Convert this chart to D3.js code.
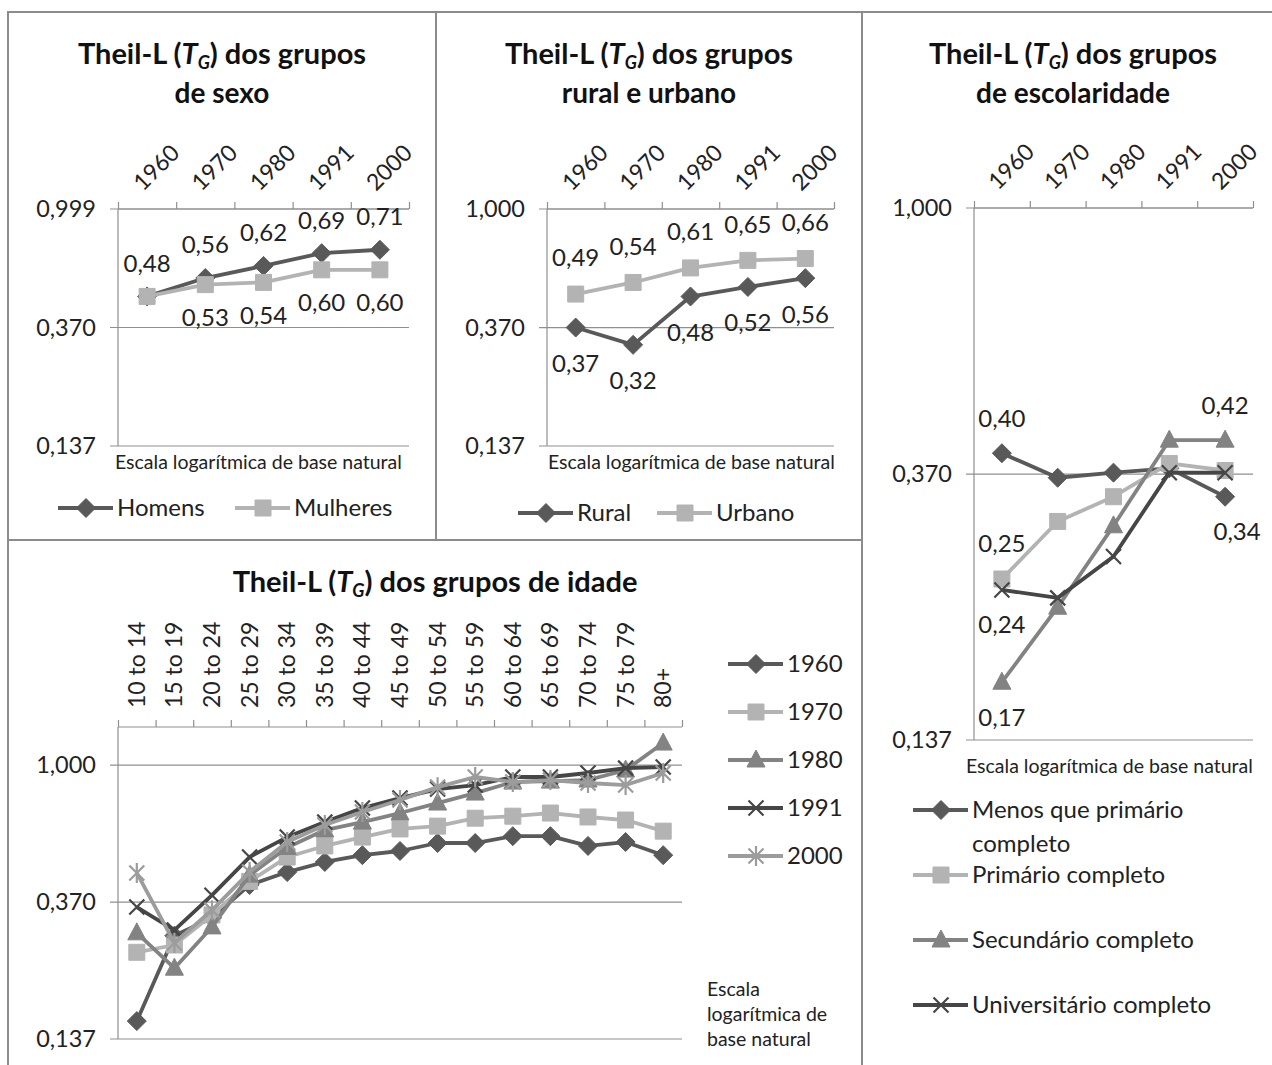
<!DOCTYPE html>
<html>
<head>
<meta charset="utf-8">
<title>Theil-L (TG) dos grupos</title>
<style>
  body { margin: 0; background: #fff; }
  svg { display: block; font-family: Lato, "Open Sans", sans-serif; }
</style>
</head>
<body>
<svg class="viz" width="1272" height="1065"></svg>
<script src="https://d3js.org/d3.v7.min.js"></script>
<script>
// ---- data ----
var years = ['1960', '1970', '1980', '1991', '2000'];
var ageGroups = ['10 to 14', '15 to 19', '20 to 24', '25 to 29', '30 to 34', '35 to 39', '40 to 44',
  '45 to 49', '50 to 54', '55 to 59', '60 to 64', '65 to 69', '70 to 74', '75 to 79', '80+'];

var yTicks = [0.137, 0.370, 1.000];
var yTickLabels = ['0,137', '0,370', '1,000'];
var yTicksSexo = [0.137, 0.370, 0.999];
var yTickLabelsSexo = ['0,137', '0,370', '0,999'];

var homens = [0.48, 0.56, 0.62, 0.69, 0.71];
var mulheres = [0.48, 0.53, 0.54, 0.60, 0.60];

var rural = [0.37, 0.32, 0.48, 0.52, 0.56];
var urbano = [0.49, 0.54, 0.61, 0.65, 0.66];

var escMenos = [0.40, 0.365, 0.372, 0.378, 0.34];
var escPrimario = [0.25, 0.31, 0.34, 0.385, 0.375];
var escSecundario = [0.17, 0.225, 0.305, 0.42, 0.42];
var escUniversitario = [0.24, 0.233, 0.272, 0.372, 0.372];

var idade1960 = [0.156, 0.29, 0.33, 0.419, 0.46, 0.495, 0.52, 0.536, 0.568, 0.568, 0.597, 0.597, 0.556, 0.572, 0.52];
var idade1970 = [0.257, 0.271, 0.337, 0.43, 0.513, 0.556, 0.593, 0.629, 0.642, 0.68, 0.69, 0.706, 0.686, 0.671, 0.619];
var idade1980 = [0.296, 0.229, 0.309, 0.45, 0.55, 0.624, 0.661, 0.706, 0.759, 0.816, 0.884, 0.89, 0.897, 0.964, 1.173];
var idade1991 = [0.357, 0.302, 0.389, 0.513, 0.593, 0.661, 0.732, 0.787, 0.84, 0.865, 0.917, 0.917, 0.944, 0.978, 0.986];
var idade2000 = [0.457, 0.275, 0.349, 0.46, 0.572, 0.647, 0.711, 0.776, 0.852, 0.917, 0.884, 0.897, 0.878, 0.865, 0.944];

// ---- style ----
var cDark = '#595959', cLight = '#b3b3b3', cMid = '#838383', cDarker = '#464646', cMidLight = '#9c9c9c';
var axisColor = '#8f8f8f';
var fmt = function(v) { return d3.format('.2f')(v).replace('.', ','); };

var svg = d3.select('.viz');

// panel frames
var frame = svg.append('g').attr('fill', 'none').attr('stroke', '#8c8c8c').attr('stroke-width', 2);
frame.append('rect').attr('x', 8).attr('y', 12).attr('width', 1270).attr('height', 1060);
frame.append('line').attr('x1', 436).attr('x2', 436).attr('y1', 12).attr('y2', 540);
frame.append('line').attr('x1', 862).attr('x2', 862).attr('y1', 12).attr('y2', 1065);
frame.append('line').attr('x1', 8).attr('x2', 862).attr('y1', 540).attr('y2', 540);

// markers
function markerPath(type) {
  if (type === 'diamond') return 'M0,-9.5L9.5,0L0,9.5L-9.5,0Z';
  if (type === 'square') return 'M-8,-8H8V8H-8Z';
  if (type === 'triangle') return 'M0,-10L9,7H-9Z';
  if (type === 'x') return 'M-7.5,-7.5L7.5,7.5M-7.5,7.5L7.5,-7.5';
  if (type === 'star') return 'M-7.5,-7.5L7.5,7.5M-7.5,7.5L7.5,-7.5M0,-10V10';
}
function drawMarker(g, type, color, x, y) {
  var filled = (type === 'diamond' || type === 'square' || type === 'triangle');
  g.append('path')
    .attr('d', markerPath(type))
    .attr('transform', 'translate(' + x + ',' + y + ')')
    .attr('fill', filled ? color : 'none')
    .attr('stroke', color)
    .attr('stroke-width', filled ? 1 : 2.2);
}

function title(g, cx, y, rest) {
  var t = g.append('text').attr('x', cx).attr('y', y).attr('text-anchor', 'middle')
    .attr('font-weight', 'bold').attr('font-size', 29).attr('fill', '#111');
  t.append('tspan').text('Theil-L (');
  t.append('tspan').attr('font-style', 'italic').text('T');
  t.append('tspan').attr('font-style', 'italic').attr('font-size', 18).attr('dy', 5).text('G');
  t.append('tspan').attr('dy', -5).text(') ' + rest);
}
function title2(g, cx, y, txt) {
  g.append('text').attr('x', cx).attr('y', y).attr('text-anchor', 'middle').attr('font-weight', 'bold')
    .attr('font-size', 28).attr('fill', '#111').text(txt);
}

function drawPanel(o) {
  var g = svg.append('g');
  var n = o.cats.length;
  var x = d3.scaleBand().domain(o.cats).range([o.x0, o.x1]);
  var xb = d3.scaleLinear().domain([0, n]).range([o.x0, o.x1]);
  var y = d3.scaleLog().domain([0.137, o.yMax]).range([o.yBottom, o.yTop]);
  var cx = function(i) { return x(o.cats[i]) + x.bandwidth() / 2; };

  // gridlines + left ticks
  g.selectAll('.grid').data(o.ticks).enter().append('line')
    .attr('x1', o.x0 - 8).attr('x2', o.x1)
    .attr('y1', function(d) { return y(d); }).attr('y2', function(d) { return y(d); })
    .attr('stroke', axisColor).attr('stroke-width', 1.2);
  g.selectAll('.ylab').data(o.ticks).enter().append('text')
    .attr('x', o.x0 - 22).attr('y', function(d) { return y(d); })
    .attr('dy', '0.35em').attr('text-anchor', 'end').attr('font-size', 23.5).attr('fill', '#222')
    .text(function(d, i) { return o.tickLabels[i]; });
  g.append('line').attr('x1', o.x0).attr('x2', o.x0).attr('y1', o.yTop).attr('y2', o.yBottom)
    .attr('stroke', axisColor).attr('stroke-width', 1.2);

  // category axis on top
  var ax = g.append('g').attr('transform', 'translate(0,' + o.yTop + ')')
    .call(d3.axisTop(xb).tickValues(d3.range(n + 1)).tickFormat('').tickSize(7));
  ax.selectAll('path, line').attr('stroke', axisColor).attr('stroke-width', 1.2);
  ax.select('.domain').attr('d', 'M' + o.x0 + ',0H' + o.x1);

  g.selectAll('.clab').data(o.cats).enter().append('text')
    .attr('transform', function(d, i) {
      return o.vertical
        ? 'translate(' + (cx(i) + 8) + ',' + (o.yTop - 19) + ') rotate(-90)'
        : 'translate(' + (cx(i) - 4) + ',' + (o.yTop - 17) + ') rotate(-45)';
    })
    .attr('font-size', 23).attr('fill', '#222')
    .text(function(d) { return d; });

  // series
  var line = d3.line().x(function(d, i) { return cx(i); }).y(function(d) { return y(d); });
  o.series.forEach(function(s) {
    g.append('path').datum(s.values).attr('d', line)
      .attr('fill', 'none').attr('stroke', s.color).attr('stroke-width', 3.8)
      .attr('stroke-linejoin', 'round');
    s.values.forEach(function(v, i) { drawMarker(g, s.marker, s.color, cx(i), y(v)); });
    (s.labels || []).forEach(function(lb) {
      g.append('text').attr('x', cx(lb.i) + (lb.dx || 0))
        .attr('y', y(s.values[lb.i]) + (lb.pos === 'above' ? -o.labelGap : o.labelGap))
        .attr('dy', '0.35em').attr('text-anchor', 'middle').attr('font-size', 24).attr('fill', '#222')
        .text(fmt(s.values[lb.i]));
    });
  });
  return g;
}

function legendItem(g, s, x, y, textLines) {
  g.append('line').attr('x1', x).attr('x2', x + 55).attr('y1', y).attr('y2', y)
    .attr('stroke', s.color).attr('stroke-width', 4);
  drawMarker(g, s.marker, s.color, x + 28, y);
  var t = g.append('text').attr('x', x + 59).attr('y', y)
    .attr('font-size', 24).attr('fill', '#222');
  textLines.forEach(function(l, k) {
    t.append('tspan').attr('x', x + 59).attr('dy', k === 0 ? '0.35em' : '1.4em').text(l);
  });
}

function escala(g, x, y, lines, size) {
  var t = g.append('text').attr('x', x).attr('y', y).attr('font-size', size).attr('fill', '#222');
  lines.forEach(function(l, k) { t.append('tspan').attr('x', x).attr('dy', k === 0 ? 0 : 25).text(l); });
}

// ---- panel 1: sexo ----
var sHomens = { values: homens, color: cDark, marker: 'diamond',
  labels: [0, 1, 2, 3, 4].map(function(i) { return { i: i, pos: 'above' }; }) };
var sMulheres = { values: mulheres, color: cLight, marker: 'square',
  labels: [1, 2, 3, 4].map(function(i) { return { i: i, pos: 'below' }; }) };
var p1 = drawPanel({ x0: 118, x1: 409, yTop: 209, yBottom: 446, yMax: 0.999, cats: years,
  ticks: yTicksSexo, tickLabels: yTickLabelsSexo, labelGap: 33, series: [sHomens, sMulheres] });
title(p1, 222, 64, 'dos grupos');
title2(p1, 222, 103, 'de sexo');
escala(p1, 115, 469, ['Escala logarítmica de base natural'], 19.5);
legendItem(p1, sHomens, 58, 508, ['Homens']);
legendItem(p1, sMulheres, 235, 508, ['Mulheres']);

// ---- panel 2: rural e urbano ----
var sRural = { values: rural, color: cDark, marker: 'diamond',
  labels: [0, 1, 2, 3, 4].map(function(i) { return { i: i, pos: 'below' }; }) };
var sUrbano = { values: urbano, color: cLight, marker: 'square',
  labels: [0, 1, 2, 3, 4].map(function(i) { return { i: i, pos: 'above' }; }) };
var p2 = drawPanel({ x0: 547, x1: 834, yTop: 209, yBottom: 446, yMax: 1.0, cats: years,
  ticks: yTicks, tickLabels: yTickLabels, labelGap: 36, series: [sRural, sUrbano] });
title(p2, 649, 64, 'dos grupos');
title2(p2, 649, 103, 'rural e urbano');
escala(p2, 548, 469, ['Escala logarítmica de base natural'], 19.5);
legendItem(p2, sRural, 518, 513, ['Rural']);
legendItem(p2, sUrbano, 657, 513, ['Urbano']);

// ---- panel 3: escolaridade ----
var sMenos = { values: escMenos, color: cDark, marker: 'diamond',
  labels: [{ i: 0, pos: 'above' }, { i: 4, pos: 'below', dx: 12 }] };
var sPrim = { values: escPrimario, color: cLight, marker: 'square', labels: [{ i: 0, pos: 'above' }] };
var sSec = { values: escSecundario, color: cMid, marker: 'triangle',
  labels: [{ i: 0, pos: 'below' }, { i: 4, pos: 'above' }] };
var sUniv = { values: escUniversitario, color: cDarker, marker: 'x', labels: [{ i: 0, pos: 'below' }] };
var p3 = drawPanel({ x0: 974, x1: 1253, yTop: 208, yBottom: 740, yMax: 1.0, cats: years,
  ticks: yTicks, tickLabels: yTickLabels, labelGap: 35, series: [sMenos, sPrim, sSec, sUniv] });
title(p3, 1073, 64, 'dos grupos');
title2(p3, 1073, 103, 'de escolaridade');
escala(p3, 966, 773, ['Escala logarítmica de base natural'], 19.5);
legendItem(p3, sMenos, 913, 810, ['Menos que primário', 'completo']);
legendItem(p3, sPrim, 913, 875, ['Primário completo']);
legendItem(p3, sSec, 913, 940, ['Secundário completo']);
legendItem(p3, sUniv, 913, 1005, ['Universitário completo']);

// ---- panel 4: idade ----
var ageSeries = [
  { name: '1960', values: idade1960, color: cDark, marker: 'diamond' },
  { name: '1970', values: idade1970, color: cLight, marker: 'square' },
  { name: '1980', values: idade1980, color: cMid, marker: 'triangle' },
  { name: '1991', values: idade1991, color: cDarker, marker: 'x' },
  { name: '2000', values: idade2000, color: cMidLight, marker: 'star' }
];
var p4 = drawPanel({ x0: 118, x1: 682, yTop: 727, yBottom: 1039, yMax: 1.318, cats: ageGroups,
  ticks: yTicks, tickLabels: yTickLabels, labelGap: 35, vertical: true, series: ageSeries });
title(p4, 435, 592, 'dos grupos de idade');
ageSeries.forEach(function(s, i) { legendItem(p4, s, 728, 664 + i * 48, [s.name]); });
escala(p4, 707, 996, ['Escala', 'logarítmica de', 'base natural'], 19.5);
</script>
</body>
</html>
